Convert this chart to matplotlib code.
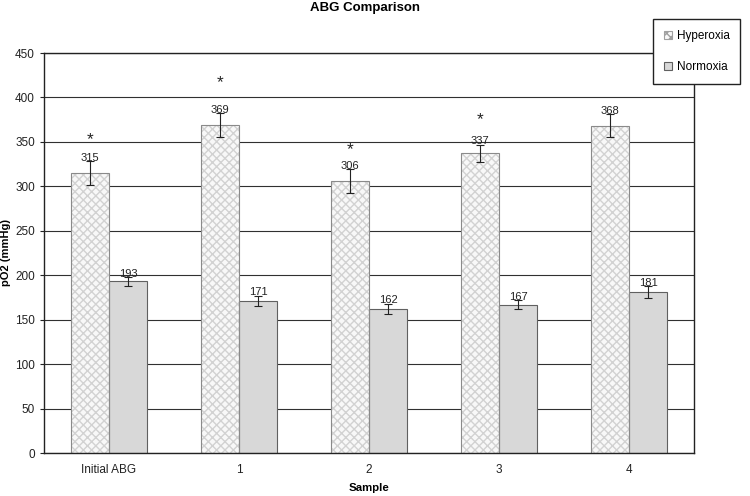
import numpy as np
import matplotlib
matplotlib.use("Agg")
import matplotlib.pyplot as plt

plt.rcParams['font.family'] = ['Liberation Sans', 'DejaVu Sans']
plt.rcParams['hatch.linewidth'] = 1.0

# data
samples = ['Initial ABG', '1', '2', '3', '4']
hyperoxia = [315, 369, 306, 337, 368]
hyper_err = [13, 13, 13, 10, 13]
normoxia = [193, 171, 162, 167, 181]
normo_err = [5, 6, 6, 5, 7]
star_y = [352, 417, 341, 375, None]

fig = plt.figure(figsize=(7.5, 4.96), dpi=100)
ax = fig.add_axes([44/750, 43/496, 650/750, 400/496])

x = np.arange(len(samples))
w = 0.292

ax.set_axisbelow(True)
ax.yaxis.grid(True, color='#303030', linewidth=0.8)

# hatched fill in light grey, outline drawn on top in darker grey
b1 = ax.bar(x - w/2, hyperoxia, w, color='#f8f8f8', edgecolor='#d2d2d2',
            linewidth=0, hatch='xxxx', label='Hyperoxia', zorder=2)
ax.bar(x - w/2, hyperoxia, w, fill=False, edgecolor='#8a8a8a',
       linewidth=0.8, zorder=2.1)
b2 = ax.bar(x + w/2, normoxia, w, color='#d8d8d8', edgecolor='#606060',
            linewidth=0.8, label='Normoxia', zorder=2)

ax.errorbar(x - w/2, hyperoxia, yerr=hyper_err, fmt='none', ecolor='#222222',
            elinewidth=0.8, capsize=3, capthick=0.8, zorder=3)
ax.errorbar(x + w/2, normoxia, yerr=normo_err, fmt='none', ecolor='#222222',
            elinewidth=0.8, capsize=3, capthick=0.8, zorder=3)

for xi, v, e in zip(x - w/2, hyperoxia, hyper_err):
    ax.text(xi, v + e - 2, str(v), ha='center', va='bottom', fontsize=8, color='#222222', zorder=4)
for xi, v, e in zip(x + w/2, normoxia, normo_err):
    ax.text(xi, v + e - 2, str(v), ha='center', va='bottom', fontsize=8, color='#222222', zorder=4)

for xi, sy in zip(x - w/2, star_y):
    if sy is not None:
        ax.text(xi, sy, '*', ha='center', va='center', fontsize=12.5, color='#222222', zorder=4)

ax.set_xlim(-0.5, len(samples) - 0.5)
ax.set_ylim(0, 450)
ax.set_yticks(range(0, 451, 50))
ax.set_xticks(x)
ax.set_xticklabels(samples)
ax.tick_params(axis='x', length=0, labelsize=8.5, pad=8, colors='#222222')
ax.tick_params(axis='y', length=3, labelsize=8.5, colors='#222222', direction='out')
for s in ax.spines.values():
    s.set_color('#222222')
    s.set_linewidth(1.0)

ax.set_xlabel('Sample', fontsize=8.2, fontweight='bold', labelpad=5)
ax.set_ylabel('pO2 (mmHg)', fontsize=8, fontweight='bold', labelpad=3)
fig.text(365/750, 1 - 8/496, 'ABG Comparison', ha='center', va='center',
         fontsize=9.5, fontweight='bold')

leg = fig.legend(handles=[b1, b2], loc='center left',
                 bbox_to_anchor=(653/750, 1 - 90/496, 95/750, 77/496),
                 fontsize=8.5, frameon=True, fancybox=False,
                 handlelength=0.7, handleheight=0.7, handletextpad=0.4,
                 labelspacing=1.6, borderpad=0.9, borderaxespad=0)
leg.get_frame().set_edgecolor('#222222')
leg.get_frame().set_linewidth(1.0)
leg.get_frame().set_alpha(1)
leg.legend_handles[0].set_edgecolor('#a0a0a0')
leg.legend_handles[0].set_linewidth(0.8)

fig.savefig('out.png', dpi=100)
